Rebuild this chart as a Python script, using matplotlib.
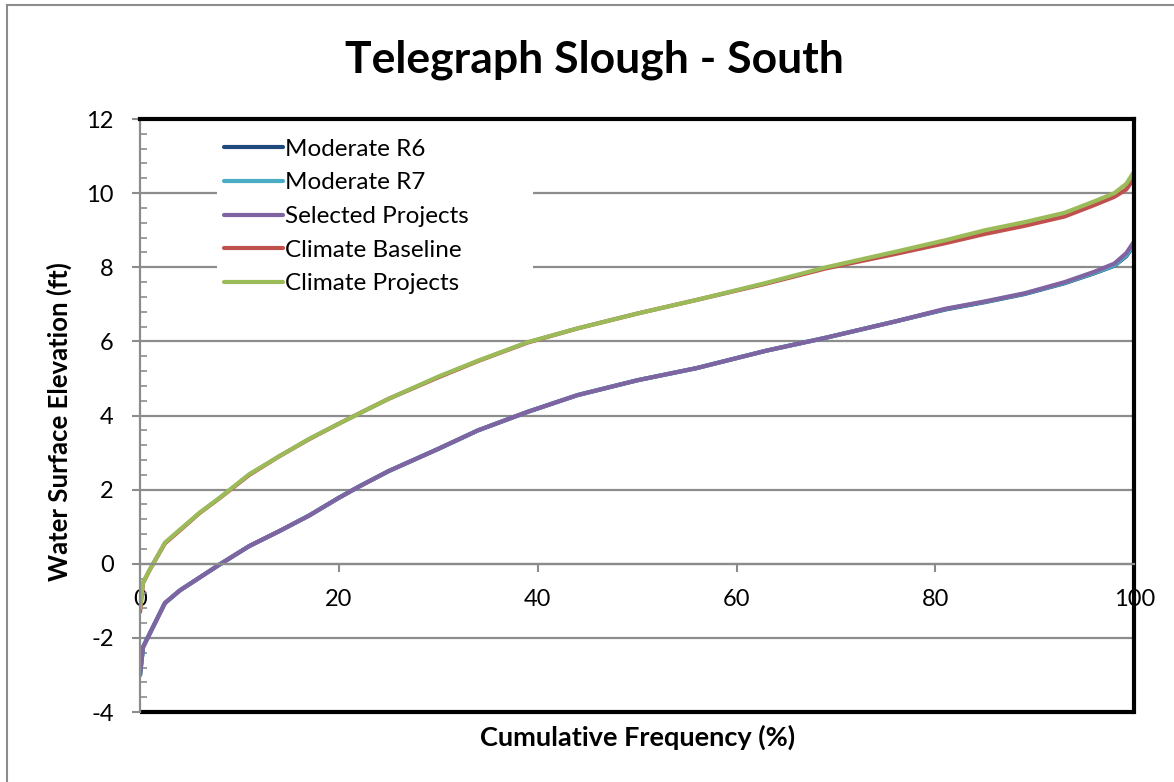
import matplotlib
matplotlib.use("Agg")
import matplotlib.pyplot as plt
from matplotlib.lines import Line2D
from matplotlib.ticker import MultipleLocator

plt.rcParams['font.family'] = ['Lato', 'DejaVu Sans']
plt.rcParams['axes.unicode_minus'] = False

# cumulative frequency (%)
freq = [0, 0.3, 1, 2.5, 4, 6, 8, 11, 14, 17, 20, 22, 25, 30, 34, 39, 44,
        50, 56, 63, 69, 76, 81, 85, 89, 93, 96, 98, 99.2, 100]

# water surface elevation (ft)
moderate_r6 = [-3.0, -2.25, -1.87, -1.06, -0.72, -0.37, -0.02, 0.48, 0.88, 1.3,
               1.78, 2.08, 2.5, 3.1, 3.6, 4.1, 4.55, 4.95, 5.28, 5.75, 6.1,
               6.54, 6.86, 7.06, 7.28, 7.57, 7.84, 8.04, 8.3, 8.6]
moderate_r7 = [-3.0, -2.25, -1.87, -1.06, -0.72, -0.37, -0.02, 0.48, 0.88, 1.3,
               1.78, 2.08, 2.5, 3.1, 3.6, 4.1, 4.55, 4.95, 5.28, 5.75, 6.1,
               6.54, 6.87, 7.07, 7.29, 7.58, 7.85, 8.05, 8.32, 8.62]
selected_projects = [-3.0, -2.25, -1.87, -1.06, -0.72, -0.37, -0.02, 0.48, 0.88, 1.3,
                     1.78, 2.08, 2.5, 3.1, 3.6, 4.1, 4.55, 4.95, 5.28, 5.75, 6.1,
                     6.54, 6.88, 7.08, 7.3, 7.6, 7.88, 8.1, 8.38, 8.7]
climate_baseline = [-1.3, -0.52, -0.15, 0.55, 0.9, 1.37, 1.77, 2.4, 2.9, 3.36,
                    3.78, 4.05, 4.45, 5.03, 5.47, 5.97, 6.35, 6.75, 7.12, 7.56, 7.97,
                    8.36, 8.65, 8.9, 9.12, 9.37, 9.68, 9.9, 10.1, 10.4]
climate_projects = [-1.2, -0.5, -0.15, 0.57, 0.92, 1.38, 1.78, 2.42, 2.9, 3.37,
                    3.78, 4.05, 4.45, 5.05, 5.48, 5.98, 6.35, 6.75, 7.12, 7.58, 8.0,
                    8.42, 8.73, 9.0, 9.22, 9.47, 9.78, 10.0, 10.25, 10.58]

series = [
    ("Moderate R6", moderate_r6, "#1F497D"),
    ("Moderate R7", moderate_r7, "#4BACC6"),
    ("Selected Projects", selected_projects, "#8064A2"),
    ("Climate Baseline", climate_baseline, "#C0504D"),
    ("Climate Projects", climate_projects, "#9BBB59"),
]

fig = plt.figure(figsize=(11.74, 7.82), dpi=100)
ax = fig.add_axes([0.1193, 0.0895, 0.8468, 0.7583])

for label, vals, col in series:
    ax.plot(freq, vals, color=col, lw=3, label=label, solid_capstyle='round')

ax.set_xlim(0, 100)
ax.set_ylim(-4, 12)
ax.xaxis.set_major_locator(MultipleLocator(20))
ax.yaxis.set_major_locator(MultipleLocator(2))
ax.yaxis.set_minor_locator(MultipleLocator(0.4))
ax.grid(axis='y', color='#8c8c8c', lw=1.6)
ax.set_axisbelow(True)

# x axis crosses at zero, plot frame drawn in black
ax.spines['bottom'].set_position(('data', 0))
ax.spines['bottom'].set_color('#8c8c8c')
ax.spines['bottom'].set_linewidth(1.6)
ax.spines['left'].set_color('#8c8c8c')
ax.spines['left'].set_linewidth(1.6)
for s in ('top', 'right'):
    ax.spines[s].set_color('black')
    ax.spines[s].set_linewidth(3)
ax.plot([0, 1], [0, 0], transform=ax.transAxes, color='black', lw=3,
        clip_on=False, solid_capstyle='butt')

ax.tick_params(axis='x', which='major', direction='out', length=6, width=1.5,
               color='#8c8c8c', pad=12, labelsize=17)
ax.tick_params(axis='y', which='major', direction='out', length=6, width=1.5,
               color='#8c8c8c', pad=13, labelsize=17)
ax.tick_params(axis='y', which='minor', direction='in', length=5, width=1.2,
               color='#8c8c8c')

fig.text(0.506, 0.923, "Telegraph Slough - South", fontsize=32,
         fontweight='bold', ha='center', va='center')
ax.set_xlabel("Cumulative Frequency (%)", fontsize=19.5, fontweight='bold')
ax.xaxis.set_label_coords(0.5, -0.022)
ax.set_ylabel("Water Surface Elevation (ft)", fontsize=18.5, fontweight='bold')
ax.yaxis.set_label_coords(-0.068, 0.49)

# white legend box wide enough to hide the upper gridlines
leg = ax.legend(loc='upper left', bbox_to_anchor=(0.0775, 0.0, 0.318, 0.979),
                mode='expand', fontsize=17.5,
                frameon=True, fancybox=False, framealpha=1, edgecolor='white',
                handlelength=2.4, handletextpad=0.1, labelspacing=0.52,
                borderpad=0.3, borderaxespad=0)
leg.get_frame().set_linewidth(0)

# outer chart border
fig.add_artist(Line2D([0.006, 0.006], [0, 0.994], color='#8c8c8c', lw=1.5,
                      transform=fig.transFigure))
fig.add_artist(Line2D([0.006, 1], [0.994, 0.994], color='#8c8c8c', lw=1.5,
                      transform=fig.transFigure))

fig.savefig("out.png", dpi=100)
